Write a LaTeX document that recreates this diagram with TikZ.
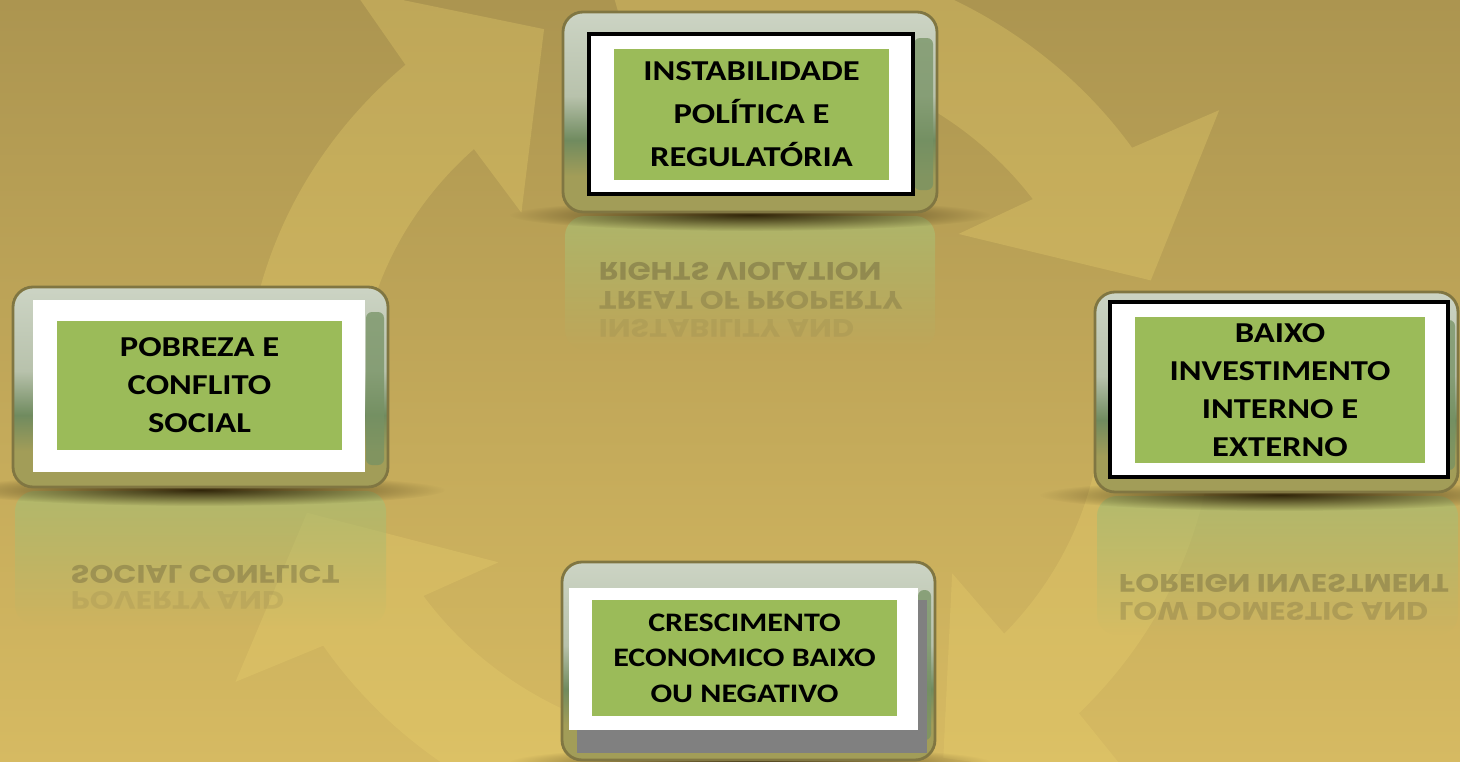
\documentclass[tikz,border=0pt]{standalone}
\usepackage{fontspec}
\setmainfont{Carlito}
\newfontfamily\reflfont{Poppins}
\usetikzlibrary{fadings}
\definecolor{bgtop}{RGB}{172,149,80}
\definecolor{bgbot}{RGB}{214,186,98}
\definecolor{ringlite}{RGB}{235,210,110}
\definecolor{bevtop}{RGB}{204,212,196}
\definecolor{bevlite}{RGB}{184,194,172}
\definecolor{bevmid}{RGB}{112,139,95}
\definecolor{bevbot}{RGB}{162,157,88}
\definecolor{bevside}{RGB}{118,146,100}
\definecolor{bevline}{RGB}{128,118,66}
\definecolor{dfgreen}{RGB}{155,187,89}
\definecolor{reflgreen}{RGB}{172,188,112}
\definecolor{refltext}{RGB}{105,96,58}
\definecolor{shadowcol}{RGB}{50,38,10}
\pgfdeclareverticalshading{bevel}{100bp}{color(0bp)=(bevbot); color(25bp)=(bevbot); color(34bp)=(bevbot); color(43bp)=(bevmid); color(54bp)=(bevlite); color(75bp)=(bevtop); color(100bp)=(bevtop)}
\tikzfading[name=fadedown, top color=transparent!20, bottom color=transparent!100]
\tikzfading[name=fuzzy, inner color=transparent!0, outer color=transparent!100]
\tikzstyle{ringarrow} = [fill=ringlite, fill opacity=0.3]
\tikzstyle{bevelbox} = [rectangle, rounded corners=0.2cm, shade, shading=bevel, draw=bevline, line width=0.8pt]
\tikzstyle{sidestrip} = [fill=bevside, fill opacity=0.75, rounded corners=0.06cm]
\tikzstyle{panel} = [rectangle, fill=white, inner sep=0pt]
\tikzstyle{causebox} = [rectangle, fill=dfgreen, inner sep=0pt, align=center, xscale=1.2]
\tikzstyle{mirror} = [anchor=west, inner sep=0pt, text=refltext, font=\reflfont\bfseries\fontsize{7.2}{8}\selectfont, xscale=1.2, yscale=-1]
\tikzstyle{reflection} = [fill=reflgreen, path fading=fadedown]
\tikzstyle{boxshadow} = [fill=shadowcol, path fading=fuzzy]

\begin{document}
\begin{tikzpicture}
    \useasboundingbox (0,0) rectangle (14.6,-7.62);
    \clip (0,0) rectangle (14.6,-7.62);
    % background
    \shade[top color=bgtop, bottom color=bgbot] (0,0) rectangle (14.6,-7.62);

    % cycle arrows
    \begin{scope}[shift={(7.3,-4.0)}, yscale=0.93]
    \fill[ringarrow] (190:4.85) arc[start angle=190, end angle=132, radius=4.85] -- (130.5:5.8) -- (115:4.4) -- (136:2.9) -- (133.5:3.72) arc[start angle=133.5, end angle=190, radius=3.72] -- cycle;
    \fill[ringarrow] (105:4.85) arc[start angle=105, end angle=34, radius=4.85] -- (32.5:5.8) -- (17:4.4) -- (38:2.9) -- (35.5:3.72) arc[start angle=35.5, end angle=105, radius=3.72] -- cycle;
    \fill[ringarrow] (365:4.85) arc[start angle=365, end angle=316, radius=4.85] -- (314.5:5.8) -- (299:4.4) -- (320:2.9) -- (317.5:3.72) arc[start angle=317.5, end angle=365, radius=3.72] -- cycle;
    \fill[ringarrow] (292:4.85) arc[start angle=292, end angle=213, radius=4.85] -- (211.5:5.8) -- (196:4.4) -- (217:2.9) -- (214.5:3.72) arc[start angle=214.5, end angle=292, radius=3.72] -- cycle;
    \end{scope}

    % reflections
    \fill[reflection, rounded corners=0.2cm] (5.65,-2.16) rectangle (9.35,-3.5);
    \fill[reflection, rounded corners=0.2cm] (0.15,-4.91) rectangle (3.86,-6.25);
    \fill[reflection, rounded corners=0.2cm] (10.97,-4.96) rectangle (14.58,-6.35);
    \node[mirror, opacity=0.45] (refla) at (5.98,-2.71) {RIGHTS VIOLATION};
    \node[mirror, opacity=0.32] (reflb) at (5.98,-3.0) {TREAT OF PROPERTY};
    \node[mirror, opacity=0.12] (reflc) at (5.98,-3.28) {INSTABILITY AND};
    \node[mirror, opacity=0.4] (refld) at (0.70,-5.74) {SOCIAL CONFLICT};
    \node[mirror, opacity=0.12] (refle) at (0.70,-6.0) {POVERTY AND};
    \node[mirror, opacity=0.4] (reflf) at (11.18,-5.83) {FOREIGN INVESTMENT};
    \node[mirror, opacity=0.28] (reflg) at (11.18,-6.11) {LOW DOMESTIC AND};

    % shadows under the boxes
    \fill[boxshadow] (7.5,-2.15) ellipse (2.4 and 0.16);
    \fill[boxshadow] (2.0,-4.9) ellipse (2.45 and 0.16);
    \fill[boxshadow] (12.8,-4.95) ellipse (2.4 and 0.16);
    \fill[boxshadow] (7.5,-7.62) ellipse (2.4 and 0.16);

    % Top: instabilidade
    \node[bevelbox, minimum width=3.74cm, minimum height=2cm] (topbevel) at (7.5,-1.12) {};
    \fill[sidestrip] (9.14,-0.38) rectangle (9.33,-1.9);
    \node[panel, draw=black, line width=1pt, minimum width=3.24cm, minimum height=1.6cm] (toppanel) at (7.51,-1.14) {};
    \node[causebox, minimum width=2.29cm, minimum height=1.31cm, font=\bfseries\fontsize{8.2}{12.2}\selectfont] (instab) at (7.515,-1.145) {INSTABILIDADE\\POLÍTICA E\\REGULATÓRIA};

    % Right: investimento
    \node[bevelbox, minimum width=3.63cm, minimum height=2cm] (rightbevel) at (12.765,-3.92) {};
    \fill[sidestrip] (14.42,-3.2) rectangle (14.55,-4.7);
    \node[panel, draw=black, line width=1.2pt, minimum width=3.38cm, minimum height=1.75cm] (rightpanel) at (12.79,-3.895) {};
    \node[causebox, minimum width=2.417cm, minimum height=1.46cm, font=\bfseries\fontsize{8.2}{10.8}\selectfont] (invest) at (12.80,-3.90) {BAIXO\\INVESTIMENTO\\INTERNO E\\EXTERNO};

    % Bottom: crescimento
    \node[bevelbox, minimum width=3.73cm, minimum height=1.98cm] (botbevel) at (7.485,-6.61) {};
    \fill[sidestrip] (9.18,-5.9) rectangle (9.31,-7.4);
    \node[panel, fill=black!50, minimum width=3.5cm, minimum height=1.53cm] (botgrey) at (7.52,-6.765) {};
    \node[panel, minimum width=3.49cm, minimum height=1.42cm] (botpanel) at (7.435,-6.59) {};
    \node[causebox, minimum width=2.54cm, minimum height=1.16cm, font=\bfseries\fontsize{7.6}{10.1}\selectfont] (growth) at (7.445,-6.58) {CRESCIMENTO\\ECONOMICO BAIXO\\OU NEGATIVO};

    % Left: pobreza
    \node[bevelbox, minimum width=3.75cm, minimum height=2cm] (leftbevel) at (2.005,-3.87) {};
    \fill[sidestrip] (3.66,-3.12) rectangle (3.84,-4.65);
    \node[panel, minimum width=3.32cm, minimum height=1.72cm] (leftpanel) at (1.99,-3.86) {};
    \node[causebox, minimum width=2.375cm, minimum height=1.29cm, font=\bfseries\fontsize{8.2}{10.8}\selectfont] (poverty) at (1.995,-3.855) {POBREZA E\\CONFLITO\\SOCIAL};
\end{tikzpicture}
\end{document}
